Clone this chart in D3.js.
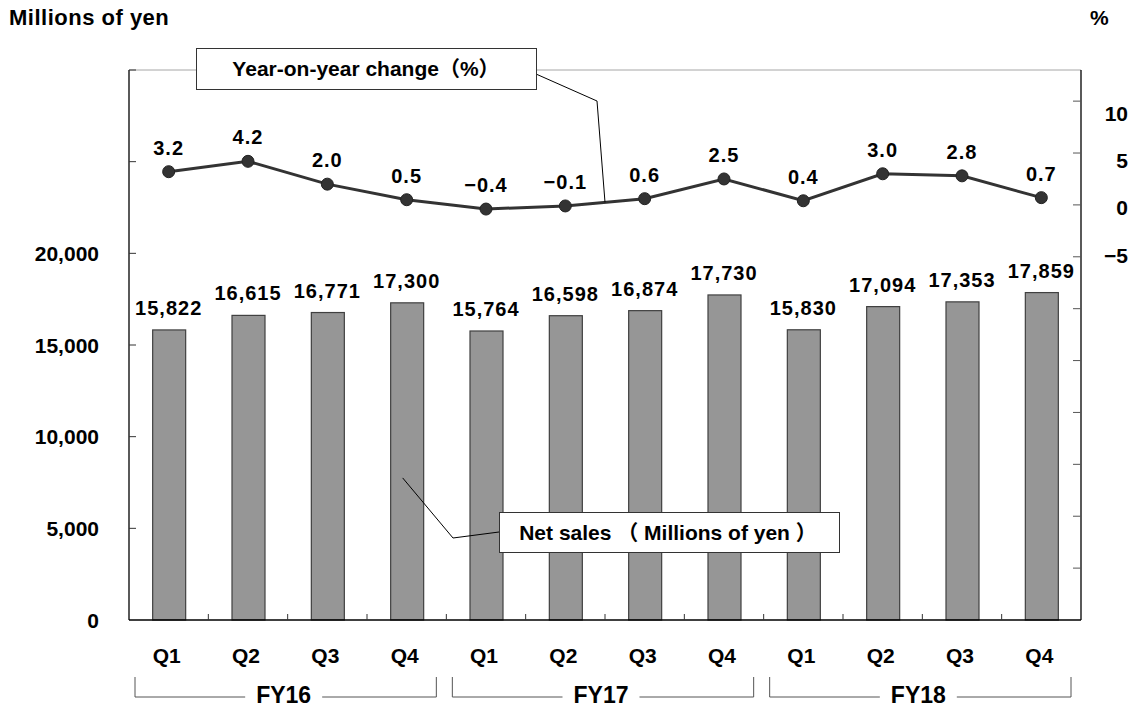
<!DOCTYPE html>
<html>
<head>
<meta charset="utf-8">
<script src="https://cdn.jsdelivr.net/npm/d3@7"></script>
<style>
  html, body { margin: 0; padding: 0; background: #fff; }
  svg { display: block; }
  text { font-family: "Liberation Sans", Arial, "Noto Sans CJK JP", sans-serif; font-weight: bold; fill: #000; }
</style>
</head>
<body>
<svg id="chart" width="1135" height="711"></svg>
<script>
// Quarterly net sales (millions of yen) and year-on-year change (%)
const fiscalYears = ["FY16", "FY17", "FY18"];
const quarters = ["Q1", "Q2", "Q3", "Q4"];
const netSales = [15822, 16615, 16771, 17300, 15764, 16598, 16874, 17730, 15830, 17094, 17353, 17859];
const yoyChange = [3.2, 4.2, 2.0, 0.5, -0.4, -0.1, 0.6, 2.5, 0.4, 3.0, 2.8, 0.7];
const leftTickLabels = [0, 5000, 10000, 15000, 20000];
const leftTickMarks = [5000, 10000, 15000, 20000, 25000, 30000];
const rightTickLabels = [-5, 0, 5, 10];
const rightTickMarks = [-35, -30, -25, -20, -15, -10, -5, 0, 5, 10];

const svg = d3.select("#chart");
const L = 129, R = 1081, T = 70, B = 620;

const periods = netSales.map((_, i) => i);
const x = d3.scaleBand().domain(periods).range([L, R]).paddingInner(0.584).paddingOuter(0.292);
const step = x.step();
const cx = i => x(i) + x.bandwidth() / 2;
const yL = d3.scaleLinear().domain([0, 30000]).range([B, T]);
const yR = d3.scaleLinear().domain([-40, 13]).range([B, T]);
// right-hand labels sit on their own spacing
const yRLabel = d3.scaleLinear().domain([-5, 10]).range([255, 113]);

const fmt = d3.format(",");
const fmtPct = v => d3.format(".1f")(v).replace("-", "\u2212");

// top frame line
svg.append("line").attr("x1", L).attr("x2", R).attr("y1", T).attr("y2", T)
  .attr("stroke", "#a6a6a6").attr("stroke-width", 1);

// bars
svg.append("g").selectAll("rect").data(netSales).join("rect")
  .attr("x", (d, i) => x(i) + 0.5)
  .attr("y", d => yL(d))
  .attr("width", x.bandwidth())
  .attr("height", d => B - yL(d))
  .attr("fill", "#969696")
  .attr("stroke", "#404040")
  .attr("stroke-width", 1.2);

// bar values
svg.append("g").selectAll("text").data(netSales).join("text")
  .attr("x", (d, i) => cx(i))
  .attr("y", d => yL(d) - 15)
  .attr("text-anchor", "middle")
  .attr("font-size", 20)
  .attr("letter-spacing", 1)
  .text(d => fmt(d));

// left axis
const gL = svg.append("g");
gL.append("line").attr("x1", L).attr("x2", L).attr("y1", T).attr("y2", B).attr("stroke", "#000").attr("stroke-width", 1.3);
gL.selectAll("line.t").data(leftTickMarks).join("line").attr("class", "t")
  .attr("x1", L).attr("x2", L + 7).attr("y1", d => yL(d)).attr("y2", d => yL(d))
  .attr("stroke", "#333").attr("stroke-width", 1);
gL.selectAll("text").data(leftTickLabels).join("text")
  .attr("x", 99).attr("y", d => yL(d) + 7.5)
  .attr("text-anchor", "end").attr("font-size", 21)
  .text(d => fmt(d));

// right axis
const gR = svg.append("g");
gR.append("line").attr("x1", R).attr("x2", R).attr("y1", T).attr("y2", B).attr("stroke", "#000").attr("stroke-width", 1.3);
gR.selectAll("line.t").data(rightTickMarks).join("line").attr("class", "t")
  .attr("x1", R - 8).attr("x2", R).attr("y1", d => yR(d)).attr("y2", d => yR(d))
  .attr("stroke", "#555").attr("stroke-width", 1);
gR.selectAll("text").data(rightTickLabels).join("text")
  .attr("x", 1128).attr("y", d => yRLabel(d) + 7.5)
  .attr("text-anchor", "end").attr("font-size", 21)
  .text(d => String(d).replace("-", "\u2212"));

// bottom axis with category boundary ticks
const gB = svg.append("g");
gB.append("line").attr("x1", L).attr("x2", R).attr("y1", B).attr("y2", B).attr("stroke", "#000").attr("stroke-width", 1.3);
gB.selectAll("line.t").data(periods.slice(1)).join("line").attr("class", "t")
  .attr("x1", i => L + i * step).attr("x2", i => L + i * step)
  .attr("y1", B).attr("y2", B - 6)
  .attr("stroke", "#333").attr("stroke-width", 1);
gB.selectAll("text").data(periods).join("text")
  .attr("x", i => cx(i) - 2).attr("y", 663)
  .attr("text-anchor", "middle").attr("font-size", 21)
  .text(i => quarters[i % 4]);

// fiscal-year brackets
fiscalYears.forEach((fy, k) => {
  const x0 = L + k * 4 * step + 6;
  const x1 = L + (k + 1) * 4 * step - 10;
  const mid = L + (k * 4 + 2) * step - 4;
  const g = svg.append("g");
  const t = g.append("text").attr("x", mid).attr("y", 703)
    .attr("text-anchor", "middle").attr("font-size", 23).text(fy);
  const w = t.node().getComputedTextLength();
  const gap = w / 2 + 11;
  g.append("path")
    .attr("d", `M${x0},677V697H${mid - gap}M${mid + gap},697H${x1}V677`)
    .attr("fill", "none").attr("stroke", "#555").attr("stroke-width", 1);
});

// year-on-year line
const line = d3.line().x((d, i) => cx(i)).y(d => yR(d));
svg.append("path").datum(yoyChange).attr("d", line)
  .attr("fill", "none").attr("stroke", "#333").attr("stroke-width", 3);
svg.append("g").selectAll("circle").data(yoyChange).join("circle")
  .attr("cx", (d, i) => cx(i)).attr("cy", d => yR(d)).attr("r", 6)
  .attr("fill", "#333").attr("stroke", "#222").attr("stroke-width", 1);
svg.append("g").selectAll("text").data(yoyChange).join("text")
  .attr("x", (d, i) => cx(i)).attr("y", d => yR(d) - 17)
  .attr("text-anchor", "middle").attr("font-size", 20).attr("letter-spacing", 1)
  .text(d => fmtPct(d));

// callout: year-on-year change
const yoyTipX = (cx(5) + cx(6)) / 2;
const yoyTipY = yR((yoyChange[5] + yoyChange[6]) / 2);
svg.append("path")
  .attr("d", `M536,74L597,101L${yoyTipX},${yoyTipY}`)
  .attr("fill", "none").attr("stroke", "#000").attr("stroke-width", 1);
svg.append("rect").attr("x", 196.5).attr("y", 48.5).attr("width", 340).attr("height", 41)
  .attr("fill", "#fff").attr("stroke", "#333").attr("stroke-width", 1);
svg.append("text").attr("x", 366).attr("y", 76).attr("text-anchor", "middle").attr("font-size", 21)
  .text("Year-on-year change（%）");

// callout: net sales
const salesTipX = cx(3) - 4;
const salesTipY = yL(7750);
svg.append("path")
  .attr("d", `M${salesTipX},${salesTipY}L453,538L499,532`)
  .attr("fill", "none").attr("stroke", "#000").attr("stroke-width", 1);
svg.append("rect").attr("x", 499.5).attr("y", 512.5).attr("width", 340).attr("height", 40)
  .attr("fill", "#fff").attr("stroke", "#333").attr("stroke-width", 1);
svg.append("text").attr("x", 668).attr("y", 540).attr("text-anchor", "middle").attr("font-size", 21)
  .text("Net sales （ Millions of yen ）");

// axis titles
svg.append("text").attr("x", 9).attr("y", 25).attr("font-size", 22).attr("letter-spacing", 0.5).text("Millions of yen");
svg.append("text").attr("x", 1090).attr("y", 25).attr("font-size", 21).text("%");
</script>
</body>
</html>
